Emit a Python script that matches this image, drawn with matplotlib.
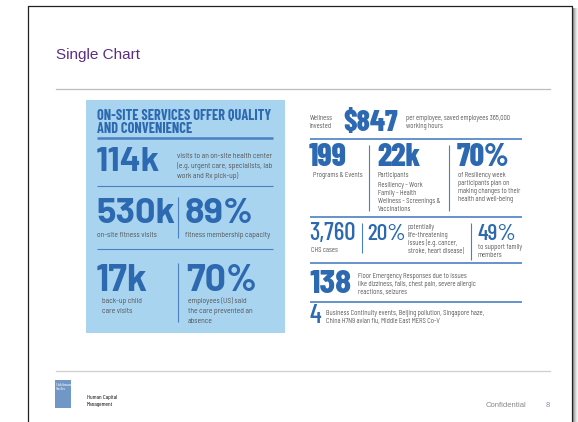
import matplotlib
matplotlib.use("Agg")
import matplotlib.pyplot as plt
from matplotlib.patches import Rectangle

# ---- chart text / values ----
slide_title = "Single Chart"

onsite_title = ["ON-SITE SERVICES OFFER QUALITY", "AND CONVENIENCE"]
onsite_values = ["114k", "530k", "89%", "17k", "70%"]
onsite_captions = [
    ["visits to an on-site health center", "(e.g. urgent care, specialists, lab", "work and Rx pick-up)"],
    ["on-site fitness visits"],
    ["fitness membership capacity"],
    ["back-up child", "care visits"],
    ["employees (US) said", "the care prevented an", "absence"],
]

wellness_label = ["Wellness", "invested"]
wellness_values = ["$847", "199", "22k", "70%", "3,760", "20%", "49%", "138", "4"]
wellness_captions = [
    ["per employee, saved employees 365,000", "working hours"],
    ["Programs & Events"],
    ["Participants"],
    ["of Resiliency week", "participants plan on", "making changes to their", "health and well-being"],
    ["CHS cases"],
    ["potentially", "life-threatening", "issues (e.g. cancer,", "stroke, heart disease)"],
    ["to support family", "members"],
    ["Floor Emergency Responses due to issues", "like dizziness, falls, chest pain, severe allergic",
     "reactions, seizures"],
    ["Business Continuity events, Beijing pollution, Singapore haze,", "China H7N9 avian flu, Middle East MERS Co-V"],
]
resiliency_programs = ["Resiliency - Work", "Family - Health", "Wellness - Screenings &", "Vaccinations"]

footer_unit = ["Human Capital", "Management"]
footer_note = "Confidential"
page_no = "8"

# ---- styles ----
COND = ["Barlow Condensed", "DejaVu Sans"]
SEMI = ["Barlow Semi Condensed", "DejaVu Sans"]
WIDE = ["Barlow", "DejaVu Sans"]
BLUE = "#2c69b0"
LINE_BLUE = "#4a80c2"
BOX = "#a9d4f0"
GREY = "#555555"
PURPLE = "#5c2d83"

fig = plt.figure(figsize=(5.78, 4.22), dpi=100)
ax = fig.add_axes([0, 0, 1, 1])
ax.set_xlim(0, 578)
ax.set_ylim(422, 0)
ax.axis("off")

# slide frame + shadow
for i, c in enumerate(["#9a9a9a", "#b5b5b5", "#cfcfcf", "#e4e4e4", "#f2f2f2"]):
    ax.add_patch(Rectangle((573 + i, 8), 1, 414, color=c, lw=0))
ax.plot([28, 28, 572, 572], [422, 6, 6, 422], color="#222222", lw=0.9)

ax.text(56, 59, slide_title, fontsize=11, color=PURPLE, family="Liberation Sans", va="baseline")
ax.plot([56, 550], [89, 89], color="#bdbdbd", lw=0.9)
ax.plot([56, 550], [371, 371], color="#cfcfcf", lw=0.9)


def big(x, y, s, size, family=COND, weight="bold"):
    ax.text(x, y, s, fontsize=size, color=BLUE, family=family,
            fontweight=weight, va="baseline")


def small(x, y, lines, size, step, family=SEMI, color=GREY):
    # one text per line so the baseline of each line is placed exactly
    for i, line in enumerate(lines):
        ax.text(x, y + i * step, line, fontsize=size, color=color, family=family, va="baseline")


def hline(x0, x1, y, lw=0.9):
    ax.plot([x0, x1], [y, y], color=LINE_BLUE, lw=lw, solid_capstyle="butt")


def vline(x, y0, y1, lw=0.8):
    ax.plot([x, x], [y0, y1], color=LINE_BLUE, lw=lw, solid_capstyle="butt")


# ---- left panel ----
ls, lstep = 5.5, 10
ax.add_patch(Rectangle((86, 100), 199, 233, color=BOX, lw=0))
for i, line in enumerate(onsite_title):
    ax.text(97, 120 + i * 13, line, fontsize=10.3, color=BLUE, family=COND,
            fontweight="bold", va="baseline")
hline(97, 273, 137.5, lw=1.8)

big(96, 171, onsite_values[0], 25, WIDE)
small(177, 158, onsite_captions[0], ls, lstep)
hline(97, 273, 186, lw=0.8)

big(96, 223, onsite_values[1], 26, WIDE)
vline(178, 197, 238)
big(185, 223, onsite_values[2], 26, WIDE)
small(97, 237, onsite_captions[1], ls, lstep)
small(185, 237, onsite_captions[2], ls, lstep)
hline(97, 273, 249, lw=0.8)

big(96, 291, onsite_values[3], 27, WIDE)
vline(178, 263, 322)
big(186, 291, onsite_values[4], 27, WIDE)
small(102, 303, onsite_captions[3], ls, lstep)
small(188, 303, onsite_captions[4], ls, lstep)

# ---- right panel ----
rs, rstep = 4.8, 8
small(310, 120, wellness_label, rs, rstep)
big(343, 131, wellness_values[0], 21.5, weight=800)
small(406, 120, wellness_captions[0], rs, rstep)
hline(310, 522, 139, lw=1.2)

big(309, 166, wellness_values[1], 23, weight=800)
small(313, 177, wellness_captions[1], rs, rstep)
vline(369, 145, 211)
big(377, 166, wellness_values[2], 23, weight=800)
small(378, 177, wellness_captions[2], rs, rstep)
small(378, 187, resiliency_programs, rs, rstep)
vline(449, 145, 211)
big(457, 166, wellness_values[3], 23, weight=800)
small(458, 177, wellness_captions[3], rs, rstep)
hline(310, 522, 217, lw=1.2)

big(309, 240, wellness_values[4], 18, weight="medium")
small(311, 252, wellness_captions[4], rs, rstep)
vline(362, 223, 253)
big(367, 240, wellness_values[5], 17, weight="medium")
small(408, 229, wellness_captions[5], rs, rstep)
vline(471, 223, 260)
big(477, 240, wellness_values[6], 17, weight="medium")
small(478, 249, wellness_captions[6], rs, rstep)
hline(310, 522, 263, lw=1.2)

big(309, 293, wellness_values[7], 23, SEMI, weight=800)
small(358, 278, wellness_captions[7], rs, rstep)
hline(310, 522, 302, lw=1.2)

big(310, 323, wellness_values[8], 19, weight="medium")
small(326, 315, wellness_captions[8], rs, rstep)

# ---- footer ----
ax.add_patch(Rectangle((55, 380), 16, 28, color="#7097c6", lw=0))
ax.text(56, 383, "Goldman\nSachs", fontsize=3.2, color="white", family="Liberation Serif",
        va="top", linespacing=0.9)
small(87, 399, footer_unit, 4.4, 7, family=COND, color="#111111")
ax.text(526, 407, footer_note, fontsize=5.5, color="#888888", family="Liberation Sans", ha="right", va="baseline")
ax.text(550, 407, page_no, fontsize=5.5, color="#7f8fb0", family="Liberation Sans", ha="right", va="baseline")

fig.savefig("out.png", dpi=100)
